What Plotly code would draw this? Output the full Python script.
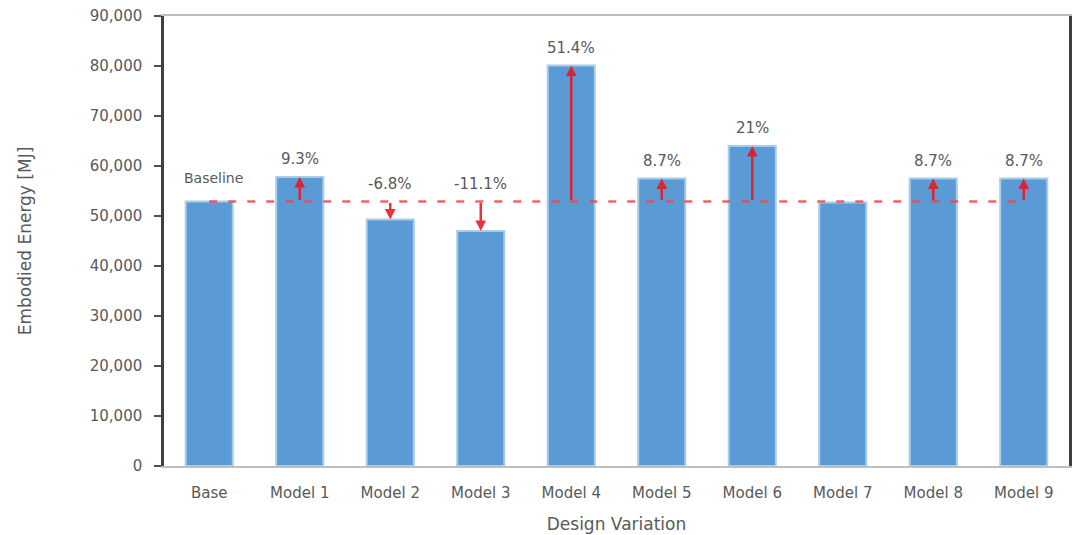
import plotly.graph_objects as go

# Embodied energy of each design variation (MJ)
categories = ["Base", "Model 1", "Model 2", "Model 3", "Model 4",
              "Model 5", "Model 6", "Model 7", "Model 8", "Model 9"]
energy = [52900, 57800, 49300, 47000, 80100, 57500, 64000, 52700, 57500, 57500]
change_labels = ["", "9.3%", "-6.8%", "-11.1%", "51.4%", "8.7%", "21%", "", "8.7%", "8.7%"]
baseline = energy[0]

y_ticks = list(range(0, 90001, 10000))

TEXT = "#595959"
FONT = "DejaVu Sans"
ARROW = "rgba(235,20,30,0.88)"

fig = go.Figure()

fig.add_trace(go.Bar(
    x=categories, y=energy, width=0.52,
    marker=dict(color="#5B9BD5", line=dict(color="#A9CBEA", width=2)),
    hoverinfo="x+y", showlegend=False,
))

# Dashed baseline from the base case across to the last model
fig.add_trace(go.Scatter(
    x=[categories[0], categories[-1]], y=[baseline, baseline],
    mode="lines", line=dict(color="rgba(240,70,75,0.85)", width=2.5, dash="8px,11px"),
    hoverinfo="skip", showlegend=False,
))

annotations = []
annotations.append(dict(
    x=categories[0], y=baseline, xref="x", yref="y", text="Baseline",
    showarrow=False, yanchor="bottom", yshift=14, xshift=4,
    font=dict(family=FONT, size=14, color=TEXT),
))

for cat, val, lab in zip(categories, energy, change_labels):
    if not lab:
        continue
    # Arrow from the baseline to the bar top
    annotations.append(dict(
        x=cat, y=val, xref="x", yref="y",
        ax=cat, ay=baseline, axref="x", ayref="y",
        text="", showarrow=True, arrowhead=2, arrowsize=0.85,
        arrowwidth=2.5, arrowcolor=ARROW, standoff=0,
    ))
    annotations.append(dict(
        x=cat, y=max(val, baseline), xref="x", yref="y", text=lab,
        showarrow=False, yanchor="bottom", yshift=7,
        font=dict(family=FONT, size=15, color=TEXT),
    ))

fig.update_layout(
    width=1075, height=535,
    margin=dict(l=164, r=6, t=16, b=69),
    paper_bgcolor="white", plot_bgcolor="white",
    bargap=0.48,
    font=dict(family=FONT, size=15, color=TEXT),
    annotations=annotations,
    xaxis=dict(
        automargin=False,
        showgrid=False, showline=True, linecolor="#BFBFBF", linewidth=1.5, mirror=True,
        ticks="", ticklabelstandoff=12, tickfont=dict(family=FONT, size=15, color=TEXT),
        title=dict(text="Design Variation", font=dict(family=FONT, size=17, color=TEXT), standoff=17),
    ),
    yaxis=dict(
        automargin=False,
        range=[0, 90000], tickvals=y_ticks, tickformat=",d",
        showgrid=False, zeroline=False, showline=True, linecolor="#404040", linewidth=2.5,
        mirror=True, ticks="outside", ticklen=7, tickwidth=2, tickcolor="#505050",
        ticklabelstandoff=9, tickfont=dict(family=FONT, size=15, color=TEXT),
        title=dict(text="Embodied Energy [MJ]", font=dict(family=FONT, size=17, color=TEXT), standoff=54),
    ),
)

fig.write_html("out.html")
